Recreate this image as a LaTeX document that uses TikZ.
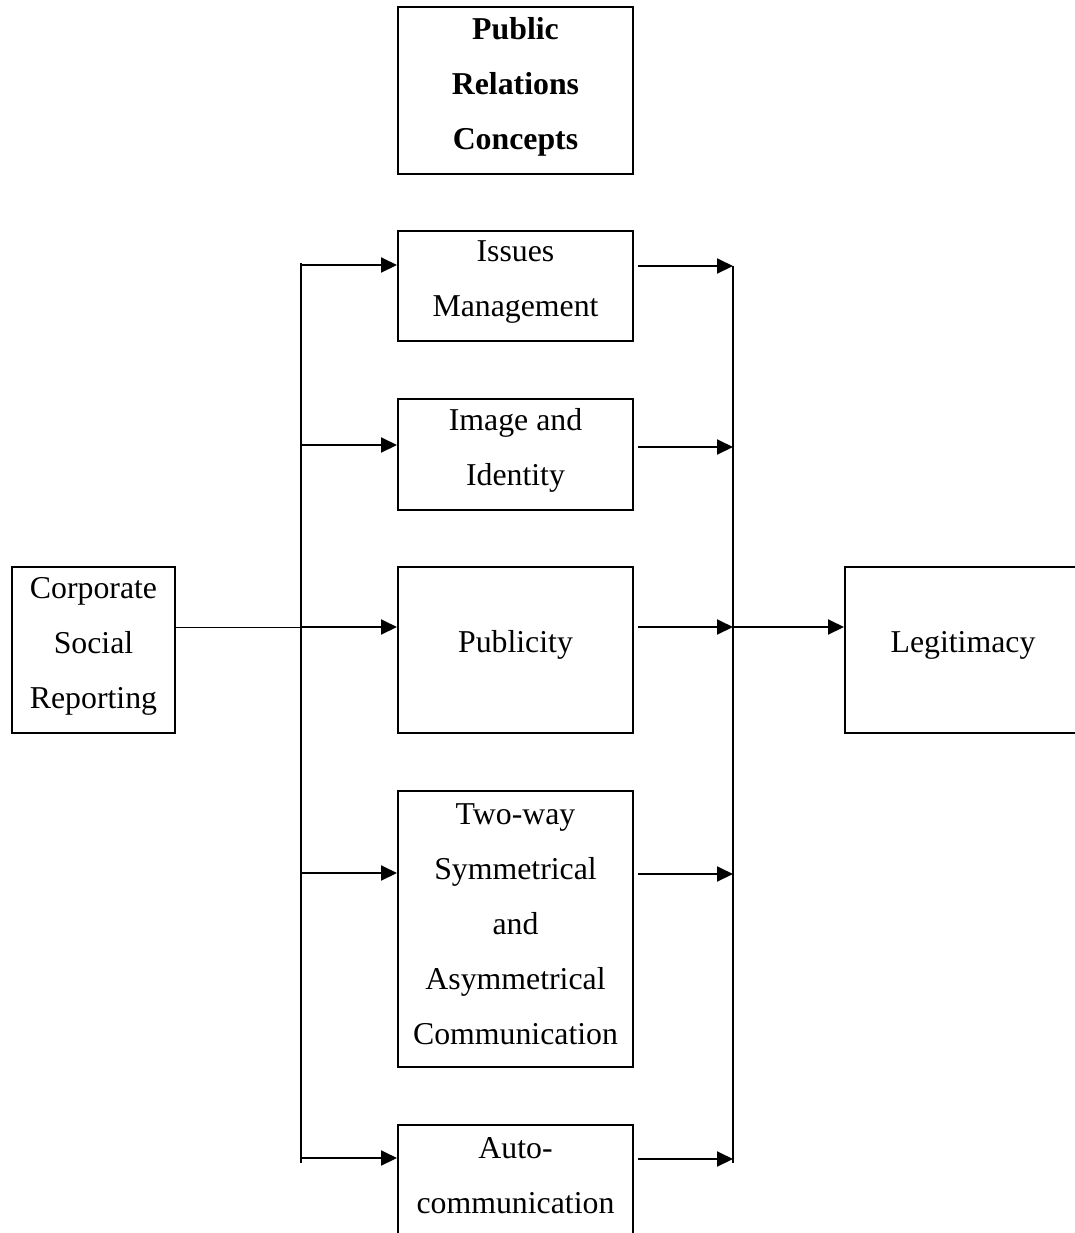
\documentclass[tikz,border=0pt]{standalone}
\usepackage{fontspec}
\setmainfont{Liberation Serif}
\usetikzlibrary{arrows.meta}
\begin{document}
\begin{tikzpicture}[x=0.5pt,y=-0.5pt,
  box/.style={draw, line width=1pt, minimum width=117.5pt, inner sep=0pt},
  lbl/.style={align=center, inner sep=0pt, font=\fontsize{15.9}{27.5}\selectfont},
  arr/.style={line width=1pt, -{Triangle[length=8pt,width=7.5pt]}},
  bus/.style={line width=0.8pt},
  thinline/.style={line width=0.5pt}]
\useasboundingbox (0,0) rectangle (1075,1233);
\clip (0,0) rectangle (1075,1233);
% boxes
\node[box, minimum height=83.5pt] (top) at (515.5,90.5) {};
\node[lbl, font=\fontsize{15.9}{27.5}\selectfont\bfseries] (topt) at (515.5,87) {Public\\Relations\\Concepts};
\node[box, minimum height=55pt] (iss) at (515.5,286) {};
\node[lbl] (isst) at (515.5,282) {Issues\\Management};
\node[box, minimum height=55.5pt] (img) at (515.5,454.5) {};
\node[lbl] (imgt) at (515.5,450.5) {Image and\\Identity};
\node[box, minimum height=83pt] (pub) at (515.5,650) {};
\node[lbl] (pubt) at (515.5,645) {Publicity};
\node[box, minimum height=138pt] (two) at (515.5,929) {};
\node[lbl] (twot) at (515.5,924) {Two-way\\Symmetrical\\and\\Asymmetrical\\Communication};
\node[box, minimum height=83pt] (auto) at (515.5,1208) {};
\node[lbl] (autot) at (515.5,1175.5) {Auto-\\communication};
\node[box, minimum width=81.5pt, minimum height=83pt] (csr) at (93.5,650) {};
\node[lbl] (csrt) at (93.5,646) {Corporate\\Social\\Reporting};
\node[box, minimum width=118pt, minimum height=83pt] (leg) at (963,650) {};
\node[lbl] (legt) at (963,645) {Legitimacy};
% bus coordinates
\coordinate (Ltop) at (301,263);
\coordinate (Lbot) at (301,1163);
\coordinate (L1) at (301,265);
\coordinate (L2) at (301,445);
\coordinate (L3) at (301,627);
\coordinate (L4) at (301,873);
\coordinate (L5) at (301,1158);
\coordinate (Rtop) at (733,266);
\coordinate (Rbot) at (733,1163);
\coordinate (R1) at (733,266);
\coordinate (R2) at (733,447);
\coordinate (R3) at (733,627);
\coordinate (R4) at (733,874);
\coordinate (R5) at (733,1159);
% buses
\draw[bus] (Ltop) -- (Lbot);
\draw[bus] (Rtop) -- (Rbot);
% input
\draw[thinline] (L3 -| csr.east) -- (L3);
\draw[arr] (L1) -- (L1 -| iss.west);
\draw[arr] (L2) -- (L2 -| img.west);
\draw[arr] (L3) -- (L3 -| pub.west);
\draw[arr] (L4) -- (L4 -| two.west);
\draw[arr] (L5) -- (L5 -| auto.west);
% outputs
\draw[arr, shorten <=2pt] (R1 -| iss.east) -- (R1);
\draw[arr, shorten <=2pt] (R2 -| img.east) -- (R2);
\draw[arr, shorten <=2pt] (R3 -| pub.east) -- (R3);
\draw[arr, shorten <=2pt] (R4 -| two.east) -- (R4);
\draw[arr, shorten <=2pt] (R5 -| auto.east) -- (R5);
\draw[arr] (R3) -- (R3 -| leg.west);
\end{tikzpicture}
\end{document}
